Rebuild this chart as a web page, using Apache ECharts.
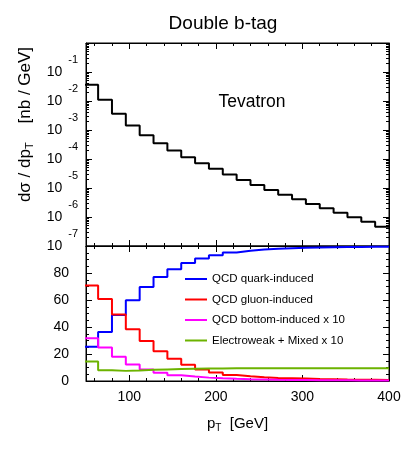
<!DOCTYPE html>
<html><head><meta charset="utf-8">
<script src="https://cdn.jsdelivr.net/npm/echarts@6/dist/echarts.min.js"></script>
<style>html,body{margin:0;padding:0;background:#fff}#c{width:407px;height:458px}</style>
</head><body><div id="c"></div>
<script>
// ---- data ----
const binLow = [48,64,80,96,112,128,144,160,176,192,208,224,240,256,272,288,304,320,336,352,368,384];
const binEnd = 400;
const crossSection = [0.0364,0.0110,0.00363,0.00143,6.65e-4,3.52e-4,1.96e-4,1.16e-4,7.18e-5,4.57e-5,2.9e-5,1.9e-5,1.28e-5,8.6e-6,5.9e-6,4.1e-6,2.82e-6,2.0e-6,1.41e-6,9.8e-7,6.9e-7,4.6e-7];
const quarkInduced = [25.3,36.3,48.8,59.8,69.6,77,82.8,87.5,90.7,93.1,95.2,96.4,97.4,97.9,98.4,98.7,98.9,99.1,99.2,99.3,99.4,99.5];
const gluonInduced = [70.7,60.7,49.2,38.4,29.7,22,16.4,12,8.6,6.3,4.5,3.5,2.8,2.2,2.0,1.8,1.5,1.3,1.1,1.0,0.9,0.8];
const bottomInduced = [31.6,24.9,17.9,12.3,8.6,6.2,4.2,3.3,2.5,2.0,1.6,1.3,1.1,0.9,0.8,0.7,0.6,0.5,0.5,0.4,0.4,0.3];
const electroweak = [14.4,8.0,7.5,7.7,8.3,8.6,8.9,9.1,9.2,9.3,9.4,9.4,9.5,9.5,9.5,9.5,9.5,9.5,9.5,9.5,9.5,9.5];
const seriesNames = ['QCD quark-induced','QCD gluon-induced','QCD bottom-induced x 10','Electroweak + Mixed x 10'];
const xMajorTicks = [100,200,300,400];
const xMinorTicks = [60,80,120,140,160,180,220,240,260,280,320,340,360,380];
const topExponents = [-7,-6,-5,-4,-3,-2,-1];
const lowerTickLabels = [0,20,40,60,80];

// ---- helpers ----
const FONT = 'Liberation Sans, Arial, Helvetica, sans-serif';
function hist(vals){
  const d = binLow.map((x,i)=>[x, vals[i]]);
  d.push([binEnd, vals[vals.length-1]]);
  return d;
}
const topMajor = topExponents.map(e => Math.pow(10, e));
const topMinor = [];
for (const e of topExponents) for (let m = 2; m <= 9; m++) topMinor.push(m * Math.pow(10, e));

const black = '#000';
function xAx(grid, pos, ticks, len, showLine, extra){
  return Object.assign({
    type:'value', gridIndex:grid, position:pos, min:50, max:400,
    splitLine:{show:false},
    axisLine:{show:showLine, onZero:false, lineStyle:{color:black,width:1}},
    axisTick:{show:true, inside:true, length:len, customValues:ticks, lineStyle:{color:black,width:1}},
    axisLabel:{show:false}
  }, extra||{});
}
function yLog(pos, ticks, len, showLine, extra){
  return Object.assign({
    type:'log', logBase:10, gridIndex:0, position:pos, min:1e-7, max:1,
    splitLine:{show:false},
    axisLine:{show:showLine, onZero:false, lineStyle:{color:black,width:1}},
    axisTick:{show:true, inside:true, length:len, customValues:ticks, lineStyle:{color:black,width:1}},
    minorTick:{show:false},
    axisLabel:{show:false}
  }, extra||{});
}
function yLin(pos, extra){
  return Object.assign({
    type:'value', gridIndex:1, position:pos, min:0, max:100, interval:20,
    splitLine:{show:false},
    axisLine:{show:true, onZero:false, lineStyle:{color:black,width:1}},
    axisTick:{show:true, inside:true, length:6, lineStyle:{color:black,width:1}},
    minorTick:{show:true, splitNumber:4, length:3, lineStyle:{color:black,width:1}},
    axisLabel:{show:false}
  }, extra||{});
}

const chart = echarts.init(document.getElementById('c'), null, {renderer:'canvas'});
chart.setOption({
  animation:false,
  backgroundColor:'#fff',
  textStyle:{fontFamily:FONT},
  grid:[
    {left:86, right:18, top:43, height:203, show:true, borderColor:black, borderWidth:1, outerBoundsMode:'none'},
    {left:86, right:18, top:246, height:135, show:true, borderColor:black, borderWidth:1, outerBoundsMode:'none'}
  ],
  xAxis:[
    xAx(0,'bottom',xMajorTicks,6,true),
    xAx(0,'bottom',xMinorTicks,3,false),
    xAx(0,'top',xMajorTicks,6,true),
    xAx(0,'top',xMinorTicks,3,false),
    xAx(1,'bottom',xMajorTicks,6,true,{
      axisLabel:{show:true, customValues:xMajorTicks, margin:9, fontSize:14, color:black, fontFamily:FONT},
      name:'{a|p}{s|T}{a|  [GeV]}', nameLocation:'middle', nameGap:33,
      nameTextStyle:{rich:{
        a:{fontSize:15, color:black, fontFamily:FONT},
        s:{fontSize:10, color:black, fontFamily:FONT, padding:[9,0,0,0]}
      }}
    }),
    xAx(1,'bottom',xMinorTicks,3,false),
    xAx(1,'top',xMajorTicks,6,true),
    xAx(1,'top',xMinorTicks,3,false)
  ],
  yAxis:[
    yLog('left',topMajor,6,true,{
      axisLabel:{show:true, customValues:topMajor, margin:8, color:black,
        formatter:v => '{b|10}{e|' + Math.round(Math.log10(v)) + '}',
        rich:{
          b:{fontSize:14, color:black, fontFamily:FONT},
          e:{fontSize:11, color:black, fontFamily:FONT, padding:[0,0,24,6]}
        }},
      name:'{a|dσ / dp}{s|T}{a|    [nb / GeV]}', nameLocation:'middle', nameGap:50, nameRotate:90,
      nameTextStyle:{padding:[0,0,0,40], rich:{
        a:{fontSize:17, color:black, fontFamily:FONT},
        s:{fontSize:11, color:black, fontFamily:FONT, padding:[10,0,0,0]}
      }}
    }),
    yLog('left',topMinor,3,false),
    yLog('right',topMajor,6,true),
    yLog('right',topMinor,3,false),
    yLin('left',{axisLabel:{show:true, customValues:lowerTickLabels, margin:17, fontSize:14, color:black, fontFamily:FONT}}),
    yLin('right')
  ],
  legend:{
    orient:'vertical', left:185, top:272, padding:0, itemGap:6.5,
    itemWidth:22, itemHeight:2, icon:'rect',
    textStyle:{fontSize:11.5, lineHeight:14, color:black, fontFamily:FONT},
    data:seriesNames
  },
  graphic:[
    {type:'text', x:223, y:24, style:{text:'Double b-tag', fontSize:19, fontFamily:FONT, fill:black, align:'center', verticalAlign:'middle'}},
    {type:'text', x:252, y:102, style:{text:'Tevatron', fontSize:17.5, fontFamily:FONT, fill:black, align:'center', verticalAlign:'middle'}}
  ],
  series:[
    {type:'line', name:'dsigma', xAxisIndex:0, yAxisIndex:0, step:'end', symbol:'none', clip:true,
      data:hist(crossSection), lineStyle:{color:'#000', width:2}, itemStyle:{color:'#000'}},
    {type:'line', name:seriesNames[0], xAxisIndex:4, yAxisIndex:4, step:'end', symbol:'none', clip:true,
      data:hist(quarkInduced), lineStyle:{color:'#0000ff', width:2}, itemStyle:{color:'#0000ff'}},
    {type:'line', name:seriesNames[1], xAxisIndex:4, yAxisIndex:4, step:'end', symbol:'none', clip:true,
      data:hist(gluonInduced), lineStyle:{color:'#ff0000', width:2}, itemStyle:{color:'#ff0000'}},
    {type:'line', name:seriesNames[2], xAxisIndex:4, yAxisIndex:4, step:'end', symbol:'none', clip:true,
      data:hist(bottomInduced), lineStyle:{color:'#ff00ff', width:2}, itemStyle:{color:'#ff00ff'}},
    {type:'line', name:seriesNames[3], xAxisIndex:4, yAxisIndex:4, step:'end', symbol:'none', clip:true,
      data:hist(electroweak), lineStyle:{color:'#6cb300', width:2}, itemStyle:{color:'#6cb300'}}
  ]
});
</script></body></html>
